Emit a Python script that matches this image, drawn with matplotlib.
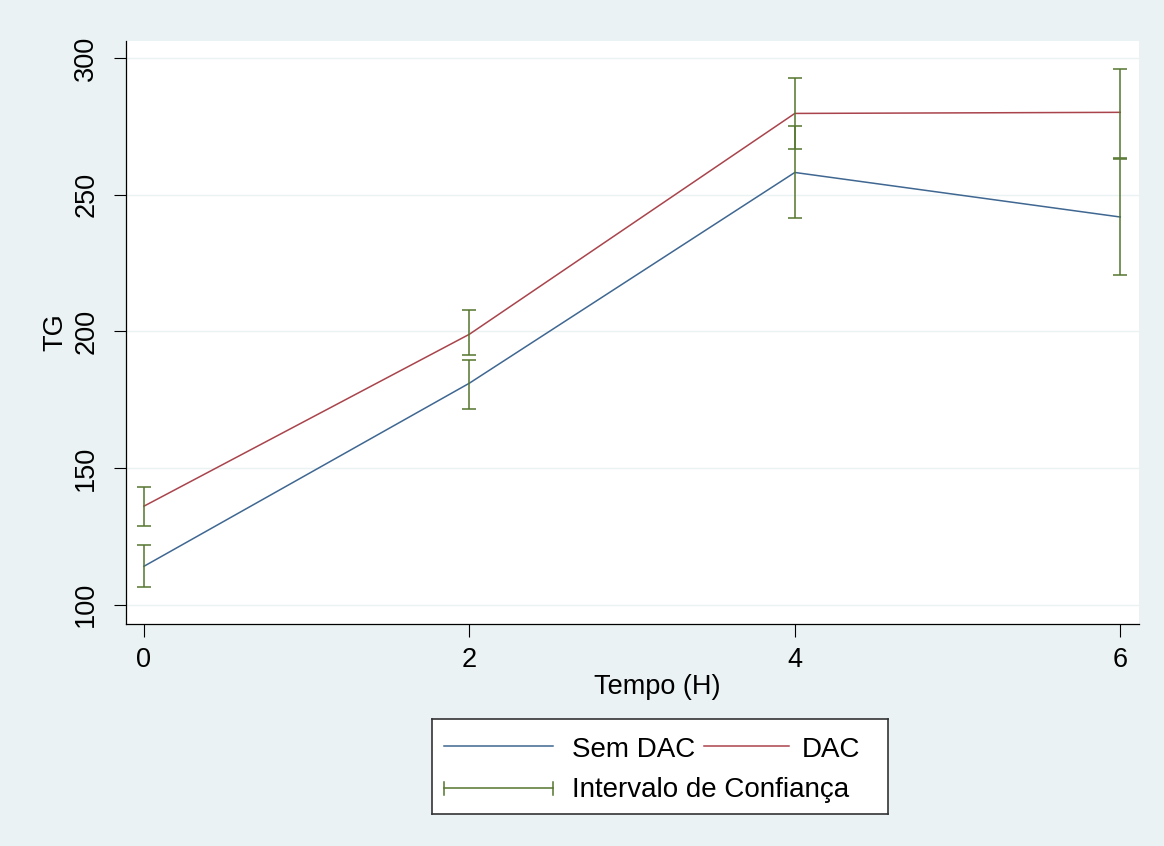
import numpy as np
import matplotlib.pyplot as plt
from matplotlib.lines import Line2D
from matplotlib.patches import Rectangle

# valores
tempo = [0, 2, 4, 6]
sem_dac = [114.0, 181.0, 258.1, 241.8]
dac = [136.0, 198.9, 279.7, 280.1]
sem_dac_lo = [106.6, 171.7, 241.4, 220.6]
sem_dac_hi = [121.7, 189.6, 275.2, 262.9]
dac_lo = [128.9, 191.3, 266.6, 263.5]
dac_hi = [143.0, 207.8, 292.6, 295.9]
yticks = [100, 150, 200, 250, 300]
xticks = [0, 2, 4, 6]

BG = '#eaf2f3'
BLUE = '#3f6791'
RED = '#a9444c'
GREEN = '#55752f'
W, H = 1164, 846

plt.rcParams['font.family'] = ['Liberation Sans', 'DejaVu Sans']
plt.rcParams.update({'font.size': 19.5})

fig = plt.figure(figsize=(W / 100, H / 100), dpi=100)
fig.patch.set_facecolor(BG)
ax = fig.add_axes([125.7 / W, 1 - 623.7 / H, (1139.3 - 125.7) / W, (623.7 - 41) / H])
ax.set_facecolor('white')

for y in yticks:
    ax.axhline(y, color=BG, lw=1.0, zorder=0)

ax.plot(tempo, sem_dac, color=BLUE, lw=1.1, zorder=2)
ax.plot(tempo, dac, color=RED, lw=1.1, zorder=2)

for lo, hi in [(sem_dac_lo, sem_dac_hi), (dac_lo, dac_hi)]:
    lo = np.array(lo)
    hi = np.array(hi)
    mid = (lo + hi) / 2
    ax.errorbar(tempo, mid, yerr=[mid - lo, hi - mid], fmt='none',
                ecolor=GREEN, elinewidth=1.1, capsize=5, capthick=1.1, zorder=3)

ax.set_xlim(-0.112, 6.117)
ax.set_ylim(93.0, 306.2)
ax.set_xticks(xticks)
ax.set_yticks(yticks)
ax.tick_params(axis='both', length=9, width=0.8, color='black')
ax.tick_params(axis='x', pad=8)
ax.tick_params(axis='y', pad=10)
for lab in ax.get_yticklabels():
    lab.set_rotation(90)
    lab.set_va('center')

for s in ['top', 'right']:
    ax.spines[s].set_visible(False)
for s in ['left', 'bottom']:
    ax.spines[s].set_linewidth(0.9)
    ax.spines[s].set_color('black')

ax.set_xlabel('Tempo (H)', va='center')
ax.xaxis.set_label_coords((657 - 125.7) / 1013.6, (623.7 - 687) / 582.7)
ax.set_ylabel('TG', va='center')
ax.yaxis.set_label_coords((55 - 125.7) / 1013.6, 0.5)

# legenda desenhada a mao (layout do Stata)
lax = fig.add_axes([431.7 / W, 1 - 814 / H, (888.3 - 431.7) / W, (814 - 719) / H])
lax.set_xlim(431.7, 888.3)
lax.set_ylim(814, 719)
lax.set_xticks([])
lax.set_yticks([])
lax.set_facecolor('white')
for s in lax.spines.values():
    s.set_linewidth(1.2)
    s.set_color('#333333')

lax.add_line(Line2D([444, 553], [745.7, 745.7], color=BLUE, lw=1.1))
lax.add_line(Line2D([704, 789], [745.7, 745.7], color=RED, lw=1.1))
lax.add_line(Line2D([444, 553], [788.3, 788.3], color=GREEN, lw=1.1))
lax.add_line(Line2D([444, 444], [781.7, 795], color=GREEN, lw=1.1))
lax.add_line(Line2D([553, 553], [781.7, 795], color=GREEN, lw=1.1))
lax.text(571.7, 757.3, 'Sem DAC', fontsize=20, va='baseline', ha='left')
lax.text(801.7, 757.3, 'DAC', fontsize=20, va='baseline', ha='left')
lax.text(571.7, 797.3, 'Intervalo de Confiança', fontsize=20, va='baseline', ha='left')

fig.savefig('out.png', dpi=100, facecolor=BG)
